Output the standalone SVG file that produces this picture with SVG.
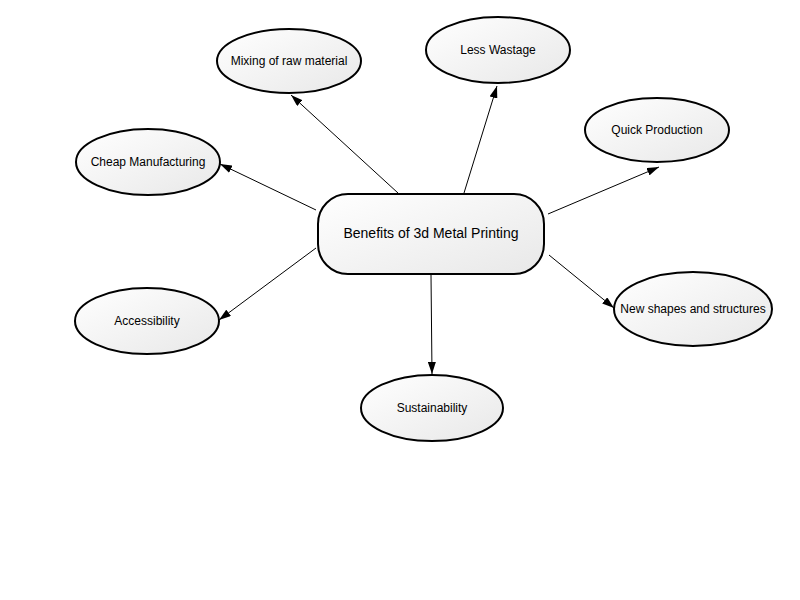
<svg xmlns="http://www.w3.org/2000/svg" width="800" height="600" viewBox="0 0 800 600">
<defs>
<linearGradient id="g" x1="0" y1="0" x2="1" y2="1">
<stop offset="0" stop-color="#ffffff"/>
<stop offset="1" stop-color="#e8e8e8"/>
</linearGradient>
<marker id="arr" markerWidth="12" markerHeight="8" refX="12" refY="4" orient="auto" markerUnits="userSpaceOnUse">
<path d="M0,0 L12,4 L0,8 z" fill="#000"/>
</marker>
<style>
.n{fill:url(#g);stroke:#000;stroke-width:2}
.t{font-family:"Liberation Sans",Arial,sans-serif;font-size:12px;fill:#000;text-anchor:middle;dominant-baseline:central}
.e{stroke:#000;stroke-width:1;fill:none;marker-end:url(#arr)}
</style>
</defs>
<rect width="800" height="600" fill="#fff"/>
<g id="edges">
<line class="e" x1="398" y1="193" x2="291" y2="95"/>
<line class="e" x1="464" y1="193" x2="497" y2="86"/>
<line class="e" x1="548" y1="214" x2="659" y2="167"/>
<line class="e" x1="316" y1="210" x2="220" y2="164"/>
<line class="e" x1="316" y1="248" x2="219" y2="320"/>
<line class="e" x1="431" y1="275" x2="432" y2="374"/>
<line class="e" x1="549" y1="255" x2="614" y2="308"/>
</g>
<g id="center">
<rect class="n" x="318" y="194" width="226" height="80" rx="30" ry="30"/>
<text class="t" x="431" y="233" style="font-size:14px">Benefits of 3d Metal Printing</text>
</g>
<g id="mixing">
<ellipse class="n" cx="289" cy="61" rx="72" ry="32"/>
<text class="t" x="289" y="61">Mixing of raw material</text>
</g>
<g id="wastage">
<ellipse class="n" cx="498" cy="50" rx="72" ry="33"/>
<text class="t" x="498" y="50">Less Wastage</text>
</g>
<g id="quick">
<ellipse class="n" cx="657" cy="130" rx="72" ry="32"/>
<text class="t" x="657" y="130">Quick Production</text>
</g>
<g id="cheap">
<ellipse class="n" cx="148" cy="162" rx="72" ry="33"/>
<text class="t" x="148" y="162">Cheap Manufacturing</text>
</g>
<g id="access">
<ellipse class="n" cx="147" cy="321" rx="72" ry="33"/>
<text class="t" x="147" y="321">Accessibility</text>
</g>
<g id="sustain">
<ellipse class="n" cx="432" cy="408" rx="71" ry="33"/>
<text class="t" x="432" y="408">Sustainability</text>
</g>
<g id="newshapes">
<ellipse class="n" cx="693" cy="309" rx="79" ry="37"/>
<text class="t" x="693" y="309">New shapes and structures</text>
</g>
</svg>
